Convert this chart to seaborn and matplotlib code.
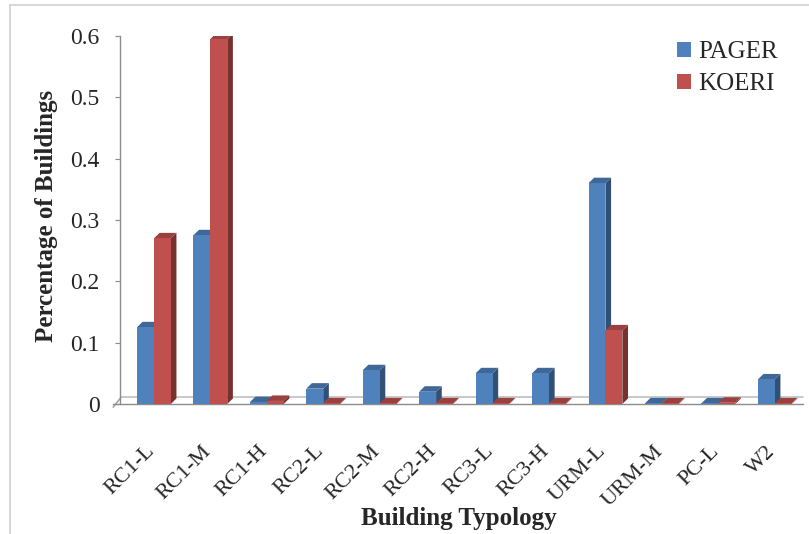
import matplotlib
matplotlib.use("Agg")
import matplotlib.pyplot as plt
import matplotlib.transforms as mtransforms
import seaborn as sns
import pandas as pd
import numpy as np
from matplotlib.patches import Polygon, Rectangle
from matplotlib.lines import Line2D
from matplotlib.colors import to_rgb

categories = ["RC1-L", "RC1-M", "RC1-H", "RC2-L", "RC2-M", "RC2-H",
              "RC3-L", "RC3-H", "URM-L", "URM-M", "PC-L", "W2"]
pager = [0.125, 0.275, 0.003, 0.025, 0.055, 0.020, 0.050, 0.050, 0.360, 0.001, 0.001, 0.040]
koeri = [0.270, 0.595, 0.005, 0.001, 0.001, 0.001, 0.001, 0.001, 0.120, 0.001, 0.002, 0.001]
series = ["PAGER", "KOERI"]
colors = {"PAGER": "#4F81BD", "KOERI": "#C0504D"}
yticks = [0, 0.1, 0.2, 0.3, 0.4, 0.5, 0.6]

df = pd.DataFrame({
    "Building Typology": categories * 2,
    "value": pager + koeri,
    "series": ["PAGER"] * len(categories) + ["KOERI"] * len(categories),
})

sns.set_style("white")
plt.rcParams["font.family"] = ["Liberation Serif", "DejaVu Serif"]

W, H = 809, 534
fig = plt.figure(figsize=(W / 100, H / 100), dpi=100)
ax = fig.add_axes([120 / W, 1 - 404 / H, (803 - 120) / W, (404 - 36) / H])

sns.barplot(data=df, x="Building Typology", y="value", hue="series",
            hue_order=series, palette=colors, width=0.6, ax=ax,
            saturation=1, legend=False, zorder=3)

# pseudo-3D side and top faces, derived from the bar patches
dx, dy = 0.10, 0.009
for p in list(ax.patches):
    x0, w, h = p.get_x(), p.get_width(), p.get_height()
    base = np.array(to_rgb(p.get_facecolor()))
    side = base * 0.62
    top = base * 0.8
    ax.add_patch(Polygon([(x0 + w, 0), (x0 + w + dx, dy), (x0 + w + dx, h + dy), (x0 + w, h)],
                         closed=True, facecolor=side, edgecolor="none", zorder=2))
    ax.add_patch(Polygon([(x0, h), (x0 + dx, h + dy), (x0 + w + dx, h + dy), (x0 + w, h)],
                         closed=True, facecolor=top, edgecolor="none", zorder=2))
    p.set_edgecolor("none")

ax.set_xlim(-0.6, 11.5)
ax.set_ylim(0, 0.6)
ax.set_yticks(yticks)
ax.set_yticklabels(["0" if v == 0 else f"{v:.1f}" for v in yticks])

# floor
ax.plot([-0.72, -0.58], [-0.005, 0.011], color="#A6A6A6", lw=1.2, clip_on=False, zorder=1)
ax.plot([-0.58, 11.5], [0.011, 0.011], color="#BFBFBF", lw=1.2, clip_on=False, zorder=1)

for s in ["top", "right"]:
    ax.spines[s].set_visible(False)
for s in ["left", "bottom"]:
    ax.spines[s].set_color("#8C8C8C")
    ax.spines[s].set_linewidth(1.0)
ax.spines["bottom"].set_bounds(-0.72, 11.5)
ax.tick_params(axis="y", left=True, length=3.6, color="#8C8C8C", labelsize=17, pad=11)
ax.tick_params(axis="x", bottom=False, labelsize=16, pad=2)
offset = mtransforms.ScaledTranslation(-2 / 100, -37 / 100, fig.dpi_scale_trans)
for lab in ax.get_xticklabels():
    lab.set_rotation(45)
    lab.set_ha("right")
    lab.set_va("center")
    lab.set_rotation_mode("anchor")
    lab.set_transform(lab.get_transform() + offset)

ax.set_xlabel("Building Typology", fontsize=18, fontweight="bold")
ax.set_ylabel("Percentage of Buildings", fontsize=18, fontweight="bold")
ax.xaxis.label.set_va("center")
ax.yaxis.label.set_va("center")
ax.xaxis.set_label_coords((459 - 120) / 683, -(518 - 404) / 368)
ax.yaxis.set_label_coords((47 - 120) / 683, (404 - 216) / 368)

handles = [Rectangle((0, 0), 1, 1, facecolor=colors[s], edgecolor="none") for s in series]
fig.legend(handles, series, loc="upper left", bbox_to_anchor=(677 / W, 1 - 41 / H),
           frameon=False, fontsize=18, handlelength=0.56, handleheight=0.56,
           handletextpad=0.3, labelspacing=0.4, borderpad=0, borderaxespad=0)

# outer chart border
fig.add_artist(Line2D([10 / W, 10 / W], [0, 1 - 5 / H], transform=fig.transFigure,
                      color="#D0D0D0", lw=1.2))
fig.add_artist(Line2D([10 / W, 1], [1 - 5 / H, 1 - 5 / H], transform=fig.transFigure,
                      color="#D0D0D0", lw=1.2))

fig.savefig("out.png", dpi=100)
